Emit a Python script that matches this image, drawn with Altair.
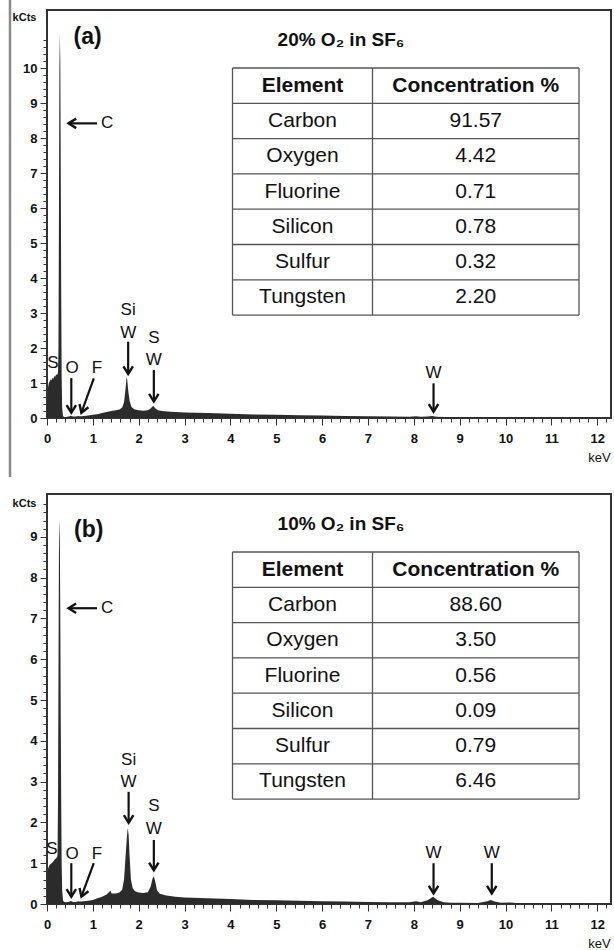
import math
import altair as alt
import pandas as pd

# ---------------- data ----------------
XMAX = 12.3

energy_a = [0.00, 0.02, 0.04, 0.06, 0.08, 0.10, 0.12, 0.14, 0.16, 0.18, 0.20, 0.22, 0.24, 0.25,
            0.26, 0.27, 0.28, 0.29, 0.30, 0.31, 0.32, 0.33, 0.35, 0.38, 0.42, 0.46, 0.50, 0.52,
            0.54, 0.58, 0.62, 0.66, 0.68, 0.70, 0.75, 0.80, 0.90, 1.00, 1.10, 1.20, 1.30, 1.40,
            1.50, 1.58, 1.64, 1.68, 1.71, 1.73, 1.74, 1.75, 1.77, 1.80, 1.84, 1.90, 2.00, 2.10,
            2.20, 2.26, 2.30, 2.32, 2.36, 2.42, 2.50, 2.70, 3.00, 3.50, 4.00, 4.50, 5.00, 5.50,
            6.00, 6.50, 7.00, 7.50, 7.90, 8.05, 8.15, 8.30, 8.40, 8.50, 8.70, 9.00, 9.50, 9.70,
            10.00, 10.50, 11.00, 11.50, 12.00, 12.30]
counts_a = [0.00, 0.85, 1.00, 1.05, 1.10, 1.08, 1.15, 1.12, 1.20, 1.18, 1.25, 1.22, 1.30, 2.00,
            5.50, 9.80, 11.00, 10.20, 7.00, 3.50, 1.20, 0.30, 0.05, 0.03, 0.03, 0.04, 0.05, 0.07,
            0.05, 0.04, 0.04, 0.05, 0.06, 0.05, 0.05, 0.06, 0.07, 0.09, 0.11, 0.14, 0.17, 0.20,
            0.22, 0.24, 0.30, 0.45, 0.80, 1.08, 1.17, 1.10, 0.80, 0.50, 0.32, 0.25, 0.22, 0.21,
            0.22, 0.27, 0.33, 0.34, 0.28, 0.22, 0.20, 0.18, 0.16, 0.14, 0.12, 0.10, 0.09, 0.08,
            0.07, 0.06, 0.05, 0.04, 0.035, 0.05, 0.035, 0.04, 0.055, 0.035, 0.03, 0.025, 0.02, 0.025,
            0.015, 0.01, 0.008, 0.005, 0.004, 0.003]

energy_b = [0.00, 0.02, 0.04, 0.06, 0.08, 0.10, 0.12, 0.14, 0.16, 0.18, 0.20, 0.22, 0.23, 0.24,
            0.25, 0.26, 0.27, 0.28, 0.29, 0.30, 0.31, 0.32, 0.33, 0.35, 0.38, 0.42, 0.46, 0.50,
            0.52, 0.54, 0.58, 0.62, 0.66, 0.68, 0.70, 0.75, 0.80, 0.90, 1.00, 1.10, 1.20, 1.30,
            1.36, 1.38, 1.41, 1.50, 1.58, 1.64, 1.68, 1.71, 1.74, 1.76, 1.78, 1.80, 1.83, 1.87,
            1.92, 2.00, 2.10, 2.20, 2.26, 2.30, 2.33, 2.36, 2.40, 2.46, 2.60, 2.80, 3.00, 3.50,
            4.00, 4.50, 5.00, 5.50, 6.00, 6.50, 7.00, 7.50, 7.90, 8.05, 8.15, 8.30, 8.42, 8.52,
            8.65, 8.80, 9.00, 9.40, 9.60, 9.68, 9.76, 9.90, 10.10, 10.30, 10.60, 11.00, 11.50,
            12.00, 12.30]
counts_b = [0.00, 0.85, 0.92, 0.96, 0.98, 1.00, 1.02, 1.05, 1.08, 1.10, 1.12, 1.15, 1.20, 2.50,
            5.50, 8.50, 9.44, 9.00, 7.00, 4.50, 2.50, 1.00, 0.35, 0.08, 0.05, 0.04, 0.05, 0.06,
            0.08, 0.06, 0.05, 0.05, 0.06, 0.07, 0.06, 0.06, 0.07, 0.08, 0.10, 0.14, 0.18, 0.23,
            0.30, 0.33, 0.26, 0.26, 0.28, 0.35, 0.60, 1.10, 1.60, 1.86, 1.70, 1.20, 0.60, 0.38,
            0.31, 0.28, 0.27, 0.29, 0.42, 0.62, 0.68, 0.55, 0.33, 0.25, 0.21, 0.18, 0.16, 0.14,
            0.12, 0.10, 0.09, 0.08, 0.07, 0.06, 0.05, 0.045, 0.04, 0.07, 0.045, 0.09, 0.18, 0.09,
            0.04, 0.03, 0.03, 0.025, 0.07, 0.10, 0.06, 0.03, 0.035, 0.02, 0.015, 0.012, 0.01,
            0.008, 0.006]

elements = ["Carbon", "Oxygen", "Fluorine", "Silicon", "Sulfur", "Tungsten"]
conc_a = ["91.57", "4.42", "0.71", "0.78", "0.32", "2.20"]
conc_b = ["88.60", "3.50", "0.56", "0.09", "0.79", "6.46"]
header = ["Element", "Concentration %"]
title_a = "20% O₂ in SF₆"
title_b = "10% O₂ in SF₆"

# peak labels (keV, kCts)
lab_a_text = ["S", "O", "F", "Si", "W", "S", "W", "W", "C"]
lab_a_x = [0.13, 0.545, 1.09, 1.77, 1.77, 2.33, 2.33, 8.43, 1.31]
lab_a_y = [1.57, 1.43, 1.43, 3.09, 2.42, 2.28, 1.66, 1.28, 8.42]
arr_a_x1 = [0.53, 1.02, 1.77, 2.33, 8.43, 1.09]
arr_a_y1 = [1.14, 1.13, 2.18, 1.37, 0.99, 8.42]
arr_a_x2 = [0.53, 0.75, 1.77, 2.33, 8.43, 0.47]
arr_a_y2 = [0.15, 0.15, 1.26, 0.47, 0.18, 8.42]

lab_b_text = ["S", "O", "F", "Si", "W", "S", "W", "W", "W", "C"]
lab_b_x = [0.11, 0.545, 1.09, 1.78, 1.78, 2.33, 2.33, 8.43, 9.70, 1.31]
lab_b_y = [1.34, 1.23, 1.23, 3.54, 3.00, 2.39, 1.84, 1.24, 1.24, 7.25]
arr_b_x1 = [0.53, 1.02, 1.78, 2.33, 8.43, 9.70, 1.09]
arr_b_y1 = [1.00, 1.00, 2.75, 1.57, 1.00, 1.00, 7.25]
arr_b_x2 = [0.53, 0.75, 1.78, 2.33, 8.43, 9.70, 0.47]
arr_b_y2 = [0.18, 0.18, 1.99, 0.83, 0.26, 0.26, 7.25]

# ---------------- styling / layout ----------------
W = 564
FONT = "Liberation Sans"
INK = "#111111"
FILL = "#2b2b2b"
TBL = dict(left=185.5, div=325.5, right=532.0, top=58.0, row=35.3, title_x=294.0, title_y=30.0)

MAJOR = "abs(datum.value - round(datum.value)) < 0.001"
XVALS = [round(i * 0.2, 1) for i in range(0, 62)]


def panel(energy, counts, ymax, height, ytop_tick, ktitle_y, labels, arrows, plabel, plabel_pos,
          ttl, conc, gray_line=False):
    kx = W / XMAX
    ky = height / ymax
    xs = alt.Scale(domain=[0, XMAX], nice=False, zero=False)
    ys = alt.Scale(domain=[0, ymax], nice=False, zero=False)
    yvals = [round(i * 0.2, 1) for i in range(0, ytop_tick + 1)]
    xaxis = alt.Axis(values=XVALS, labelExpr=f"{MAJOR} ? format(datum.value, 'd') : ''",
                     tickSize={"condition": {"test": MAJOR, "value": 7}, "value": 4},
                     labelPadding=7, labelFlush=False, labelOverlap=False, grid=False,
                     domain=False, title="keV", titleX=552, titleY=39, titleBaseline="middle",
                     titleAlign="center", titleFontSize=13, titleFontWeight="normal",
                     labelFontSize=13, labelFontWeight="bold", tickColor="#333",
                     labelColor=INK, titleColor=INK, labelFont=FONT, titleFont=FONT)
    yaxis = alt.Axis(values=yvals, labelExpr=f"{MAJOR} ? format(datum.value, 'd') : ''",
                     tickSize={"condition": {"test": MAJOR, "value": 7}, "value": 4},
                     labelPadding=3, labelFlush=False, labelOverlap=False, grid=False,
                     domain=False, title="kCts", titleAngle=0, titleX=-23, titleY=ktitle_y,
                     titleAlign="center", titleBaseline="middle", titleFontSize=11,
                     titleFontWeight="bold", labelFontSize=13, labelFontWeight="bold",
                     tickColor="#333", labelColor=INK, titleColor=INK, labelFont=FONT,
                     titleFont=FONT)

    spec = pd.DataFrame({"keV": energy, "kCts": counts})
    area = alt.Chart(spec).mark_area(color=FILL, interpolate="linear").encode(
        x=alt.X("keV:Q", scale=xs, axis=xaxis),
        y=alt.Y("kCts:Q", scale=ys, axis=yaxis),
    )

    lt, lx, ly = labels
    lab_df = pd.DataFrame({"keV": lx, "kCts": ly, "t": lt})
    texts = alt.Chart(lab_df).mark_text(font=FONT, fontSize=17, color=INK, align="center",
                                        baseline="middle").encode(
        x=alt.X("keV:Q", scale=xs, axis=xaxis),
        y=alt.Y("kCts:Q", scale=ys, axis=yaxis),
        text="t:N",
    )

    x1, y1, x2, y2 = arrows
    angs = []
    for a, b, c, d in zip(x1, y1, x2, y2):
        dxp = (c - a) * kx
        dyp = (b - d) * ky
        angs.append(math.degrees(math.atan2(-dxp, dyp)) % 360)
    arr_df = pd.DataFrame({"keV": x1, "kCts": y1, "keV2": x2, "kCts2": y2, "ang": angs})
    shafts = alt.Chart(arr_df).mark_rule(color=INK, strokeWidth=2.2).encode(
        x=alt.X("keV:Q", scale=xs, axis=xaxis),
        y=alt.Y("kCts:Q", scale=ys, axis=yaxis),
        x2="keV2:Q",
        y2="kCts2:Q",
    )
    heads = alt.Chart(arr_df).mark_point(shape="M -1 -1.6 L 0 0 L 1 -1.6", filled=False,
                                         strokeWidth=2.4, size=90, color=INK, opacity=1,
                                         strokeJoin="miter").encode(
        x=alt.X("keV2:Q", scale=xs, axis=xaxis),
        y=alt.Y("kCts2:Q", scale=ys, axis=yaxis),
        angle=alt.Angle("ang:Q", scale=None),
    )

    pl_df = pd.DataFrame({"keV": [plabel_pos[0]], "kCts": [plabel_pos[1]], "t": [plabel]})
    ptxt = alt.Chart(pl_df).mark_text(font=FONT, fontSize=23, fontWeight="bold", color=INK,
                                      align="center", baseline="middle").encode(
        x=alt.X("keV:Q", scale=xs, axis=xaxis),
        y=alt.Y("kCts:Q", scale=ys, axis=yaxis),
        text="t:N",
    )

    # ---- table (positioned in plot pixels) ----
    L, D, R, T, H = TBL["left"], TBL["div"], TBL["right"], TBL["top"], TBL["row"]
    nrows = len(elements) + 1
    hl = pd.DataFrame({"px": [L] * (nrows + 1), "px2": [R] * (nrows + 1),
                       "py": [T + i * H for i in range(nrows + 1)],
                       "py2": [T + i * H for i in range(nrows + 1)]})
    vl = pd.DataFrame({"px": [L, D, R], "px2": [L, D, R], "py": [T] * 3,
                       "py2": [T + nrows * H] * 3})
    lines = pd.concat([hl, vl], ignore_index=True)
    tlines = alt.Chart(lines).mark_rule(color="#555555", strokeWidth=1.3).encode(
        x=alt.X("px:Q", scale=None, axis=None), x2="px2:Q",
        y=alt.Y("py:Q", scale=None, axis=None), y2="py2:Q",
    )
    c1 = (L + D) / 2
    c2 = (D + R) / 2
    head_df = pd.DataFrame({"px": [c1, c2], "py": [T + H / 2] * 2, "t": header})
    thead = alt.Chart(head_df).mark_text(font=FONT, fontSize=21, fontWeight="bold", color=INK,
                                         baseline="middle", align="center").encode(
        x=alt.X("px:Q", scale=None, axis=None), y=alt.Y("py:Q", scale=None, axis=None),
        text="t:N")
    body_df = pd.DataFrame({
        "px": [c1] * len(elements) + [c2] * len(conc),
        "py": [T + (i + 1.5) * H for i in range(len(elements))] * 2,
        "t": elements + conc,
    })
    tbody = alt.Chart(body_df).mark_text(font=FONT, fontSize=21, color=INK, baseline="middle",
                                         align="center").encode(
        x=alt.X("px:Q", scale=None, axis=None), y=alt.Y("py:Q", scale=None, axis=None),
        text="t:N")
    ttl_df = pd.DataFrame({"px": [TBL["title_x"]], "py": [TBL["title_y"]], "t": [ttl]})
    ttxt = alt.Chart(ttl_df).mark_text(font=FONT, fontSize=19, fontWeight="bold", color=INK,
                                       baseline="middle", align="center").encode(
        x=alt.X("px:Q", scale=None, axis=None), y=alt.Y("py:Q", scale=None, axis=None),
        text="t:N")

    layers = [area, shafts, heads, texts, ptxt, tlines, thead, tbody, ttxt]
    if gray_line:
        gl = alt.Chart(pd.DataFrame({"d": [0]})).mark_rule(color="#8a8a8a", strokeWidth=2.5).encode(
            x=alt.value(-37), y=alt.value(-10), y2=alt.value(467))
        layers.append(gl)
    return alt.layer(*layers).properties(width=W, height=height)


top = panel(energy_a, counts_a, 11.66, 408, 54, 7,
            (lab_a_text, lab_a_x, lab_a_y), (arr_a_x1, arr_a_y1, arr_a_x2, arr_a_y2),
            "(a)", (0.885, 10.88), title_a, conc_a, gray_line=True)
bottom = panel(energy_b, counts_b, 10.05, 410, 49, 9,
               (lab_b_text, lab_b_x, lab_b_y), (arr_b_x1, arr_b_y1, arr_b_x2, arr_b_y2),
               "(b)", (0.91, 9.17), title_b, conc_b)

chart = alt.vconcat(top, bottom, spacing=76, bounds="flush").properties(
    padding={"left": 7, "top": -3, "right": 0, "bottom": 0},
    background="white",
).configure_view(stroke="#333333", strokeWidth=2)

chart.save("out.html", embed_options={"renderer": "svg", "actions": False})
